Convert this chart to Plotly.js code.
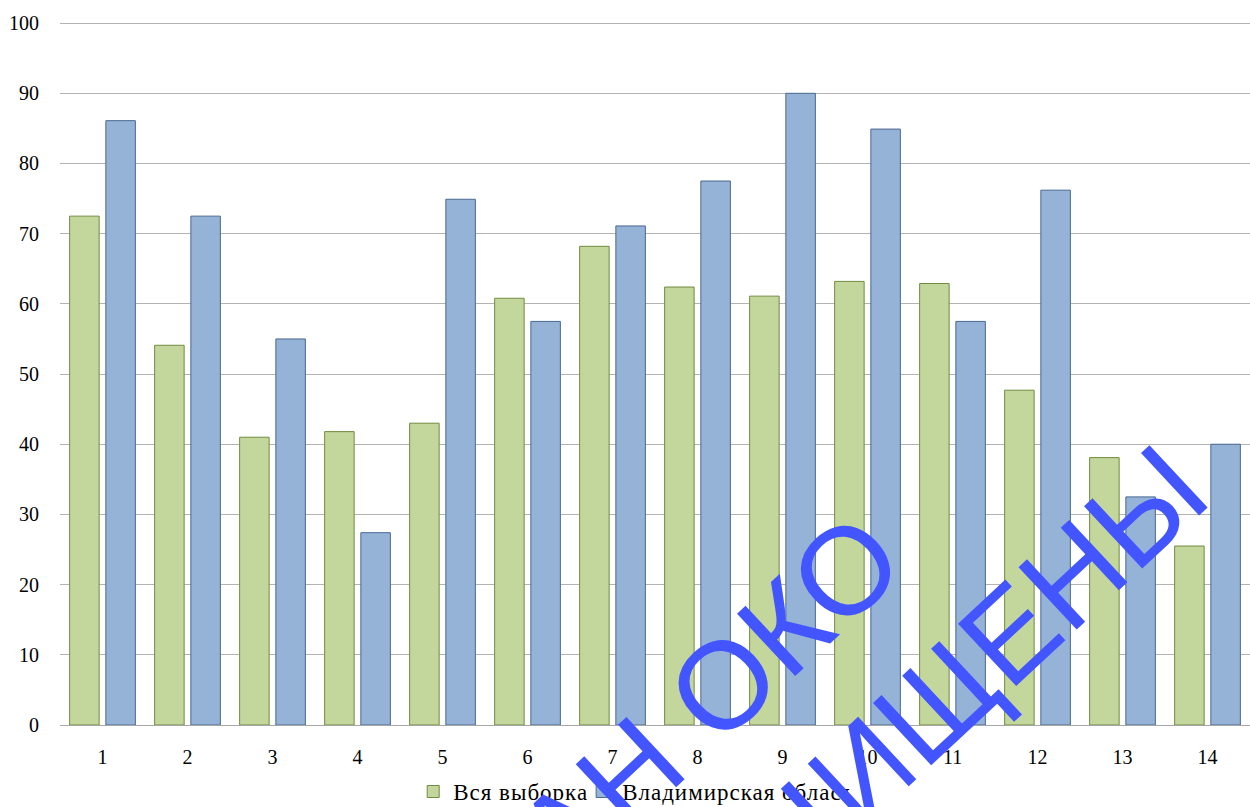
<!DOCTYPE html>
<html>
<head>
<meta charset="utf-8">
<script src="https://cdn.plot.ly/plotly-3.0.1.min.js"></script>
<style>
html,body{margin:0;padding:0;background:#fff;}
#chart{width:1250px;height:807px;}
#chart .legendtext{letter-spacing:1px;}
</style>
</head>
<body>
<div id="chart"></div>
<script>
const categories = ["1","2","3","4","5","6","7","8","9","10","11","12","13","14"];
const seriesNames = ["Вся выборка", "Владимирская область"];
const allSample = [72.5, 54.1, 41.0, 41.8, 43.0, 60.8, 68.2, 62.4, 61.1, 63.2, 62.9, 47.7, 38.1, 25.5];
const vladimir = [86.1, 72.5, 55.0, 27.4, 74.9, 57.5, 71.1, 77.5, 90.0, 84.9, 57.5, 76.2, 32.5, 40.0];
const yTicks = [0,10,20,30,40,50,60,70,80,90,100];
const watermarkLines = ["ДАН ОКО", "ЗАЩИЩЕНЫ"];

const traces = [
  {
    type: 'bar', name: seriesNames[0], x: categories, y: allSample,
    marker: {color: '#c3d69b', line: {color: '#718c3f', width: 1}},
    hoverinfo: 'none'
  },
  {
    type: 'bar', name: seriesNames[1], x: categories, y: vladimir,
    marker: {color: '#95b3d7', line: {color: '#4a6891', width: 1}},
    hoverinfo: 'none'
  }
];

const layout = {
  width: 1250, height: 807,
  margin: {l: 60, r: 0, t: 21, b: 82, autoexpand: false},
  paper_bgcolor: '#ffffff', plot_bgcolor: '#ffffff',
  font: {family: '"Liberation Serif", "Times New Roman", serif', size: 20, color: '#000'},
  barmode: 'group',
  bargap: 0.148,
  bargroupgap: 0.185,
  showlegend: true,
  legend: {
    orientation: 'h', x: 0.48, xanchor: 'center', y: -0.064, yanchor: 'top',
    font: {family: '"Liberation Serif", "Times New Roman", serif', size: 23, color: '#000'},
    itemclick: false, itemdoubleclick: false, traceorder: 'normal'
  },
  xaxis: {
    type: 'category',
    showgrid: false,
    showline: true, linecolor: '#a6a6a6', linewidth: 1,
    ticks: 'outside', ticklen: 14, tickcolor: 'rgba(0,0,0,0)',
    tickfont: {size: 20},
    zeroline: false, fixedrange: true
  },
  yaxis: {
    range: [0, 100.3],
    tickvals: yTicks,
    ticktext: yTicks.map(String),
    showgrid: true, gridcolor: '#b3b3b3', gridwidth: 1,
    showline: false, zeroline: false,
    ticks: 'outside', ticklen: 16, tickcolor: 'rgba(0,0,0,0)',
    tickfont: {size: 20},
    fixedrange: true
  },
  annotations: [
    {
      xref: 'paper', yref: 'paper', x: 0.519, y: -0.003,
      text: watermarkLines[0], showarrow: false, textangle: -43,
      xanchor: 'center', yanchor: 'middle',
      font: {family: '"Liberation Sans", Arial, sans-serif', size: 124, color: '#4355ff'}
    },
    {
      xref: 'paper', yref: 'paper', x: 0.712, y: -0.006,
      text: watermarkLines[1], showarrow: false, textangle: -43,
      xanchor: 'center', yanchor: 'middle',
      font: {family: '"Liberation Sans", Arial, sans-serif', size: 124, color: '#4355ff'}
    }
  ]
};

Plotly.newPlot('chart', traces, layout, {staticPlot: true, displayModeBar: false});
</script>
</body>
</html>
